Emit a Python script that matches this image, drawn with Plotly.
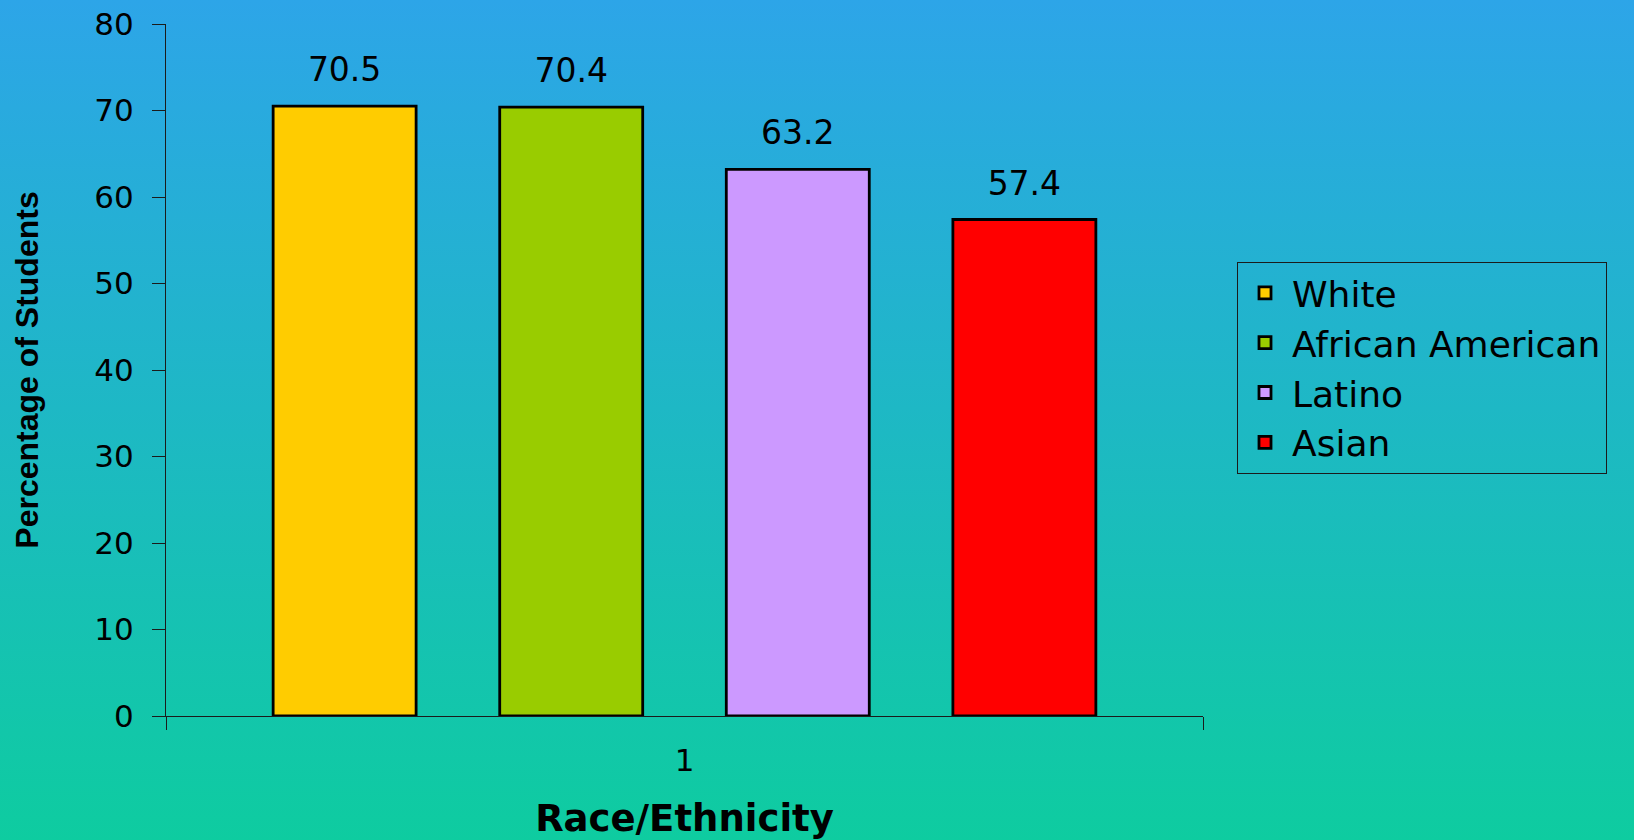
import base64
import plotly.graph_objects as go

# ---- data ----
categories = ["1"]
groups = ["White", "African American", "Latino", "Asian"]
values = [70.5, 70.4, 63.2, 57.4]
labels = ["70.5", "70.4", "63.2", "57.4"]
colors = ["#FFCC00", "#99CC00", "#CC99FF", "#FF0000"]

W, H = 1634, 840
ML, MR, MT, MB = 166, 431, 24, 124
PW, PH = W - ML - MR, H - MT - MB

BARGAP = 0.126
fig = go.Figure()

for name, v, c in zip(groups, values, colors):
    fig.add_trace(go.Bar(
        x=categories, y=[v], name=name, legendgroup=name,
        marker=dict(color=c, line=dict(color="#000000", width=2.8)),
        hoverinfo="name+y",
    ))

# value labels, aligned with the bars via grouped scatter mode
for name, v, t in zip(groups, values, labels):
    fig.add_trace(go.Scatter(
        x=categories, y=[v], text=[t], mode="markers+text",
        textposition="top center", orientation="v",
        marker=dict(size=25, opacity=0),
        textfont=dict(family="DejaVu Sans", size=33, color="#000000"),
        showlegend=False, hoverinfo="skip", cliponaxis=False,
    ))

svg = ('<svg xmlns="http://www.w3.org/2000/svg" width="100" height="100" viewBox="0 0 100 100" '
       'preserveAspectRatio="none"><defs><linearGradient id="g" x1="0" y1="0" x2="0" y2="1">'
       '<stop offset="0" stop-color="#2DA5E8"/><stop offset="1" stop-color="#0ECCA0"/>'
       '</linearGradient></defs><rect width="100" height="100" fill="url(#g)"/></svg>')
uri = "data:image/svg+xml;base64," + base64.b64encode(svg.encode()).decode()

axis_col = "#1b1b1b"
fig.update_layout(
    width=W, height=H,
    margin=dict(l=ML, r=MR, t=MT, b=MB, autoexpand=False),
    paper_bgcolor="#1CBBC3", plot_bgcolor="rgba(0,0,0,0)",
    barmode="group", bargap=BARGAP, bargroupgap=0.369,
    scattermode="group", scattergap=BARGAP,
    images=[dict(source=uri, xref="paper", yref="paper",
                 x=-ML / PW, y=1 + MT / PH, sizex=W / PW, sizey=H / PH,
                 xanchor="left", yanchor="top", sizing="stretch", layer="below")],
    xaxis=dict(type="category", range=[-0.5, 0.5], showline=True, linecolor=axis_col,
               linewidth=1, ticks="outside", tickson="boundaries", ticklen=13,
               tickcolor=axis_col, showgrid=False, zeroline=False, ticklabelstandoff=17,
               tickfont=dict(family="DejaVu Sans", size=31, color="#000000"),
               title=dict(text="<b>Race/Ethnicity</b>", standoff=39,
                          font=dict(family="DejaVu Sans", size=37, color="#000000"))),
    yaxis=dict(range=[0, 80], dtick=10, showline=True, linecolor=axis_col, linewidth=1,
               ticks="outside", ticklen=13, tickcolor=axis_col, showgrid=False,
               zeroline=False, ticklabelstandoff=12,
               tickfont=dict(family="DejaVu Sans", size=31, color="#000000"),
               title=dict(text="<b>Percentage of Students</b>", standoff=46,
                          font=dict(family="Liberation Sans, Arial", size=32, color="#000000"))),
    legend=dict(x=(1237 - ML) / PW, y=(H - MB - 262) / PH, xanchor="left", yanchor="top",
                bgcolor="rgba(0,0,0,0)", bordercolor=axis_col, borderwidth=1,
                font=dict(family="DejaVu Sans", size=36, color="#000000"),
                tracegroupgap=2, traceorder="normal", itemwidth=44),
    showlegend=True,
)

fig.write_html(
    "out.html",
    config={"displayModeBar": False},
    post_script="document.body.style.margin='0px';document.body.style.overflow='hidden';",
)
